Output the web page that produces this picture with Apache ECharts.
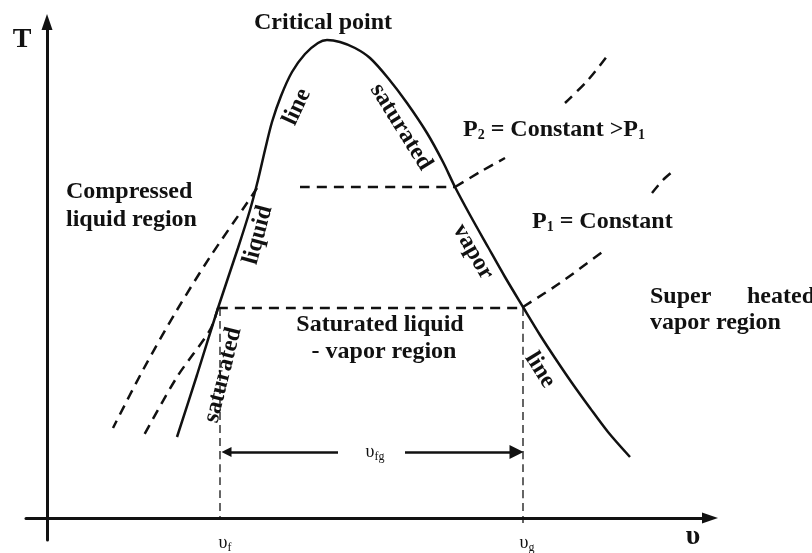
<!DOCTYPE html>
<html lang="en">
<head>
<meta charset="utf-8">
<title>T-v diagram</title>
<script src="https://cdn.jsdelivr.net/npm/echarts@6/dist/echarts.min.js"></script>
<style>
  html, body { margin: 0; padding: 0; background: #fff; }
  #chart { width: 812px; height: 553px; }
</style>
</head>
<body>
<div id="chart"></div>
<script>
// values, (v, T) in arbitrary units
var satDome = [
  [26, 16.2], [30, 28.6], [34.2, 42], [38.2, 54], [40.6, 61.6], [42.2, 67.6],
  [43.6, 73.6], [45, 79.2], [46.8, 84.4], [49, 89.2], [51.6, 92.8], [54.2, 95], [56, 95.6],
  [58.6, 95.2], [61.6, 94], [64.6, 92], [68.2, 88], [72, 83], [76, 77],
  [79.2, 71.2], [81.6, 66.2], [84.6, 60.6], [88.2, 54.2], [91.6, 48.2], [95.2, 42.2],
  [98.6, 36.6], [101.6, 32], [105, 27], [108.6, 22], [112.2, 17.2], [116.6, 12.2]
];
// constant pressure lines
var p1Mix = [[34.2, 42], [95.2, 42]];
var p2Mix = [[50.6, 66.2], [81.6, 66.2]];
var p1Liquid = [[34.2, 42], [32.6, 37.6], [26, 28.2], [19.2, 16.2]];
var p2Liquid = [[42, 66], [40, 63], [32.6, 52.2], [26, 41.6], [19.2, 29.6], [13.2, 18]];
var p1VaporLow = [[95.2, 42.2], [102.6, 47], [111.6, 53.6]];
var p1VaporHigh = [[121, 65], [123.2, 67.6], [125, 69.2]];
var p2VaporLow = [[81.6, 66.2], [86.6, 69.2], [91.6, 72]];
var p2VaporHigh = [[103.6, 83], [108.2, 87.6], [112.2, 92.6]];
// specific volumes of sat. liquid / vapor, and level of the v_fg arrow
var vf = 34.6;
var vg = 95.2;
var vfgLevel = 13.2;
var vfgGap = [58.2, 71.6];

var ink = '#111';
var serif = 'Liberation Serif';
var headHalf = 1.3; // half an arrow head, in v units

function solid(data) {
  return { type: 'line', data: data, smooth: 0.3, showSymbol: false, silent: true,
    lineStyle: { color: ink, width: 2.5 } };
}
function dashed(data, w, dash) {
  return { type: 'line', data: data, smooth: 0.3, showSymbol: false, silent: true,
    lineStyle: { color: ink, width: w || 2.5, type: dash || [10, 7] } };
}

// text notes
var rich = {
  a: { fontFamily: serif, fontWeight: 'bold', fontSize: 24, color: ink, lineHeight: 28 },
  s: { fontFamily: serif, fontWeight: 'bold', fontSize: 14, color: ink, lineHeight: 28, verticalAlign: 'bottom', padding: [0, 0, 2, 0] },
  m: { fontFamily: serif, fontSize: 18, color: ink, lineHeight: 22 },
  ms: { fontFamily: serif, fontSize: 12, color: ink, lineHeight: 22, verticalAlign: 'bottom' },
  big: { fontFamily: serif, fontWeight: 'bold', fontSize: 28, color: ink }
};
function note(text, v, t, rotate, align) {
  return {
    value: [v, t],
    label: { show: true, position: 'inside', formatter: text, rotate: rotate || 0,
      color: ink, opacity: 1, textBorderWidth: 0,
      align: align || 'center', verticalAlign: 'middle', rich: rich }
  };
}
var notes = [
  note('{big|T}', -5, 95.6),
  note('{a|Critical point}', 55.2, 99),
  note('{a|line}', 50, 82.2, 65),
  note('{a|saturated}', 70.8, 78.2, -58),
  note('{a|vapor}', 85.2, 53.2, -60),
  note('{a|line}', 98.6, 29.6, -58),
  note('{a|liquid}', 42.2, 56.6, 75),
  note('{a|saturated}', 35.2, 28.6, 76),
  note('{a|Compressed}\n{a|liquid region}', 3.8, 62.4, 0, 'left'),
  note('{a|P}{s|2}{a| = Constant >P}{s|1}', 83.2, 77.6, 0, 'left'),
  note('{a|P}{s|1}{a| = Constant}', 97, 59.2, 0, 'left'),
  note('{a|Super}', 120.6, 44.2, 0, 'left'),
  note('{a|heated}', 140, 44.2, 0, 'left'),
  note('{a|vapor region}', 120.6, 39, 0, 'left'),
  note('{a|Saturated liquid}', 66.6, 38.6),
  note('{a|- vapor region}', 67.4, 33.2),
  note('{m|υ}{ms|fg}', 65.6, 13.2),
  note('{m|υ}{ms|f}', 35.6, -5),
  note('{m|υ}{ms|g}', 96, -5),
  note('{big|υ}', 129.2, -3.8)
];

var chart = echarts.init(document.getElementById('chart'));
chart.setOption({
  animation: false,
  backgroundColor: '#fff',
  grid: { left: 26, right: 102, top: 22, bottom: 13 },
  xAxis: {
    type: 'value', min: -4.2, max: 132.6,
    axisLine: { onZero: true, symbol: ['none', 'triangle'], symbolSize: [11, 16],
      lineStyle: { color: ink, width: 3 } },
    axisTick: { show: false }, axisLabel: { show: false }, splitLine: { show: false }
  },
  yAxis: {
    type: 'value', min: -4.4, max: 99.2,
    axisLine: { onZero: true, symbol: ['none', 'triangle'], symbolSize: [11, 16],
      lineStyle: { color: ink, width: 3 } },
    axisTick: { show: false }, axisLabel: { show: false }, splitLine: { show: false }
  },
  series: [
    solid(satDome),
    dashed(p1Mix),
    dashed(p2Mix),
    dashed(p1Liquid),
    dashed(p2Liquid),
    dashed(p1VaporLow),
    dashed(p1VaporHigh),
    dashed(p2VaporLow),
    dashed(p2VaporHigh),
    dashed([[vf, 42], [vf, 0]], 1.3, [8, 5]),
    dashed([[vg, 42], [vg, -1]], 1.3, [8, 5]),
    {
      type: 'lines', coordinateSystem: 'cartesian2d', silent: true,
      symbol: ['triangle', 'none'], symbolSize: [10, 14],
      lineStyle: { color: ink, width: 2.5, opacity: 1 },
      data: [
        { coords: [[vf + headHalf, vfgLevel], [vfgGap[0], vfgLevel]] },
        { coords: [[vfgGap[1], vfgLevel], [vg - headHalf, vfgLevel]], symbol: ['none', 'triangle'] }
      ]
    },
    {
      type: 'scatter', symbolSize: 0, silent: true, clip: false,
      itemStyle: { color: ink, opacity: 1 },
      data: notes
    }
  ]
});
</script>
</body>
</html>
